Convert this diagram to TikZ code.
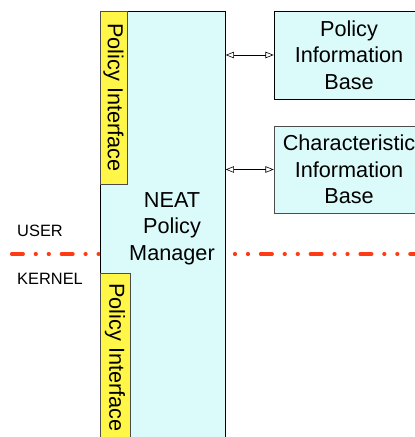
\documentclass[tikz,border=0pt]{standalone}
\usepackage{fontspec}
\setmainfont{Liberation Sans}
\usepackage{tikz}
\usepackage{xcolor}
\usetikzlibrary{arrows.meta, positioning}
\definecolor{boxcyan}{RGB}{219,251,251}
\definecolor{ifyellow}{RGB}{255,246,71}
\definecolor{lineRed}{RGB}{255,59,22}
\tikzstyle{block} = [rectangle, draw=black, fill=boxcyan, line width=.6pt, align=center, inner sep=0pt, font=\fontsize{18.5}{22.6}\selectfont]
\tikzstyle{iface} = [rectangle, draw=black!70, fill=ifyellow, line width=.6pt, inner sep=0pt, font=\fontsize{18.5}{22.6}\selectfont]
\tikzstyle{arrow} = [line width=.5pt, {Triangle[open,length=7pt,width=5.5pt]}-{Triangle[open,length=7pt,width=5.5pt]}]
\tikzstyle{space} = [anchor=west, inner sep=0pt, font=\fontsize{14}{16}\selectfont]
\tikzstyle{boundary} = [draw=lineRed, line width=3pt, line cap=round, dash pattern=on 9.8pt off 10.5pt on 0.6pt off 10.5pt on 0.6pt off 10.5pt]

\begin{document}
\begin{tikzpicture}
\useasboundingbox (0,0) rectangle (12.45,-13.11);
\clip (0,0) rectangle (12.45,-13.11);
% user / kernel boundary
\draw[boundary] (0.35,-7.62) -- (12.6,-7.62);
\node[space] (user) at (0.51,-6.93) {USER};
\node[space] (kernel) at (0.51,-8.37) {KERNEL};

% policy manager
\node[block, anchor=north west, minimum width=3.75cm, minimum height=13.5cm] (pm) at (3.0,-0.33) {};
\node[align=center, inner sep=0pt, font=\fontsize{18.5}{22.6}\selectfont] (pmtext) at (5.16,-6.86) {NEAT\\Policy\\Manager};
\node[iface, rotate=-90, minimum width=5.19cm, minimum height=0.81cm] (ifup) at (3.405,-2.925) {Policy Interface};
\node[iface, rotate=-90, minimum width=5.07cm, minimum height=0.9cm] (ifdown) at (3.45,-10.725) {Policy Interface};

% information bases
\node[block, minimum width=4.5cm, minimum height=2.64cm] (pib) at (10.47,-1.65) {Policy\\Information\\Base};
\node[block, draw=black!70, minimum width=4.5cm, minimum height=2.61cm] (cib) at (10.47,-5.085) {Characteristic\\Information\\Base};
\draw[arrow] (pib.west -| pm.east) -- (pib.west);
\draw[arrow] (cib.west -| pm.east) -- (cib.west);
\end{tikzpicture}
\end{document}
